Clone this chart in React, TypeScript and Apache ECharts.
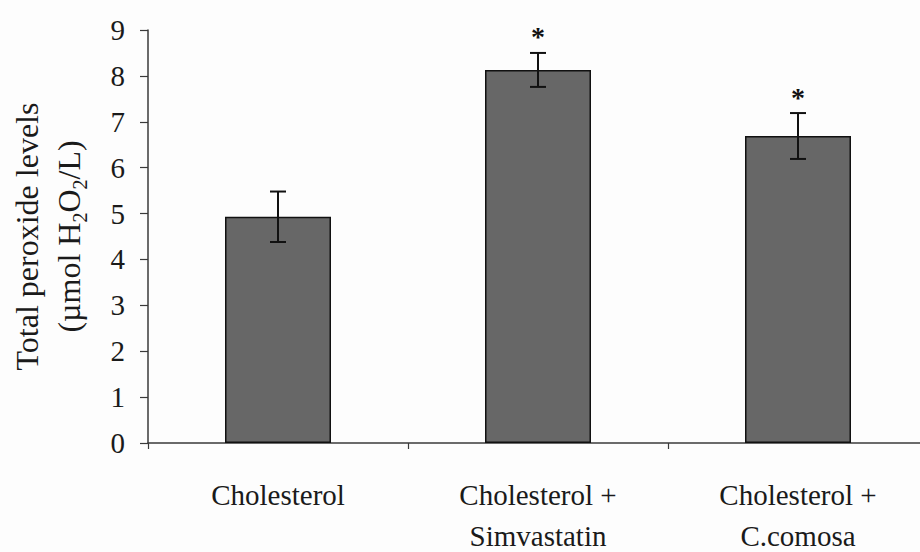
import React, { useEffect, useRef } from "react";
import * as echarts from "echarts";

const categories = ["Cholesterol", "Cholesterol +\nSimvastatin", "Cholesterol +\nC.comosa"];
const meanValues = [4.93, 8.13, 6.69];
const errorValues = [0.55, 0.37, 0.5];
const significance = ["", "*", "*"];
const yMin = 0;
const yMax = 9;
const yInterval = 1;

const FONT = "'Liberation Serif', 'Times New Roman', serif";

export default function App() {
  const ref = useRef<HTMLDivElement>(null);

  useEffect(() => {
    if (!ref.current) return;
    const chart = echarts.init(ref.current, undefined, { renderer: "svg" });
    const option: any = {
      animation: false,
      backgroundColor: "#fdfdfd",
      textStyle: { fontFamily: FONT },
      grid: {
        left: 148,
        top: 30,
        width: 780,
        height: 413,
        containLabel: false,
        outerBoundsMode: "none",
      },
      xAxis: {
        type: "category",
        data: categories,
        axisLine: { show: true, lineStyle: { color: "#3a3a3a", width: 1.5 } },
        axisTick: { show: true, alignWithLabel: false, length: 6, lineStyle: { color: "#3a3a3a", width: 1.2 } },
        axisLabel: {
          color: "#1a1a1a",
          fontFamily: FONT,
          fontSize: 29,
          lineHeight: 41,
          margin: 31,
          interval: 0,
        },
        splitLine: { show: false },
      },
      yAxis: {
        type: "value",
        min: yMin,
        max: yMax,
        interval: yInterval,
        axisLine: { show: true, lineStyle: { color: "#3a3a3a", width: 1.5 } },
        axisTick: { show: true, length: 8, lineStyle: { color: "#3a3a3a", width: 1.2 } },
        axisLabel: { color: "#1a1a1a", fontFamily: FONT, fontSize: 29, margin: 23 },
        splitLine: { show: false },
        name: "{a|Total peroxide levels}\n{a|(µmol H}{s|2}{a|O}{s|2}{a|/L)}",
        nameLocation: "middle",
        nameGap: 58,
        nameRotate: 90,
        nameTextStyle: {
          color: "#1a1a1a",
          fontFamily: FONT,
          rich: {
            a: { fontFamily: FONT, fontSize: 32, lineHeight: 42, color: "#1a1a1a" },
            s: { fontFamily: FONT, fontSize: 20, lineHeight: 20, verticalAlign: "bottom", color: "#1a1a1a" },
          },
        },
      },
      series: [
        {
          type: "bar",
          data: meanValues,
          barWidth: 106,
          itemStyle: { color: "#676767", borderColor: "#111", borderWidth: 1.5 },
        },
        {
          type: "custom",
          data: categories.map((_, i) => [i, meanValues[i], errorValues[i]]),
          renderItem: (params: any, api: any) => {
            const i = api.value(0);
            const mean = api.value(1);
            const err = api.value(2);
            const top = api.coord([i, mean + err]);
            const bot = api.coord([i, mean - err]);
            const cap = 8;
            const st = { stroke: "#111", lineWidth: 2 };
            const children: any[] = [
              { type: "line", shape: { x1: top[0], y1: top[1], x2: bot[0], y2: bot[1] }, style: st },
              { type: "line", shape: { x1: top[0] - cap, y1: top[1], x2: top[0] + cap, y2: top[1] }, style: st },
              { type: "line", shape: { x1: bot[0] - cap, y1: bot[1], x2: bot[0] + cap, y2: bot[1] }, style: st },
            ];
            if (significance[i]) {
              children.push({
                type: "text",
                x: top[0],
                y: top[1] - 16,
                style: {
                  text: significance[i],
                  fontFamily: FONT,
                  fontSize: 28,
                  fontWeight: "bold",
                  fill: "#111",
                  align: "center",
                  verticalAlign: "middle",
                },
              });
            }
            return { type: "group", children };
          },
          z: 5,
        },
      ],
    };
    chart.setOption(option);
    return () => chart.dispose();
  }, []);

  return (
    <div
      ref={ref}
      style={{ position: "absolute", left: 0, top: 0, width: 920, height: 552 }}
    />
  );
}
